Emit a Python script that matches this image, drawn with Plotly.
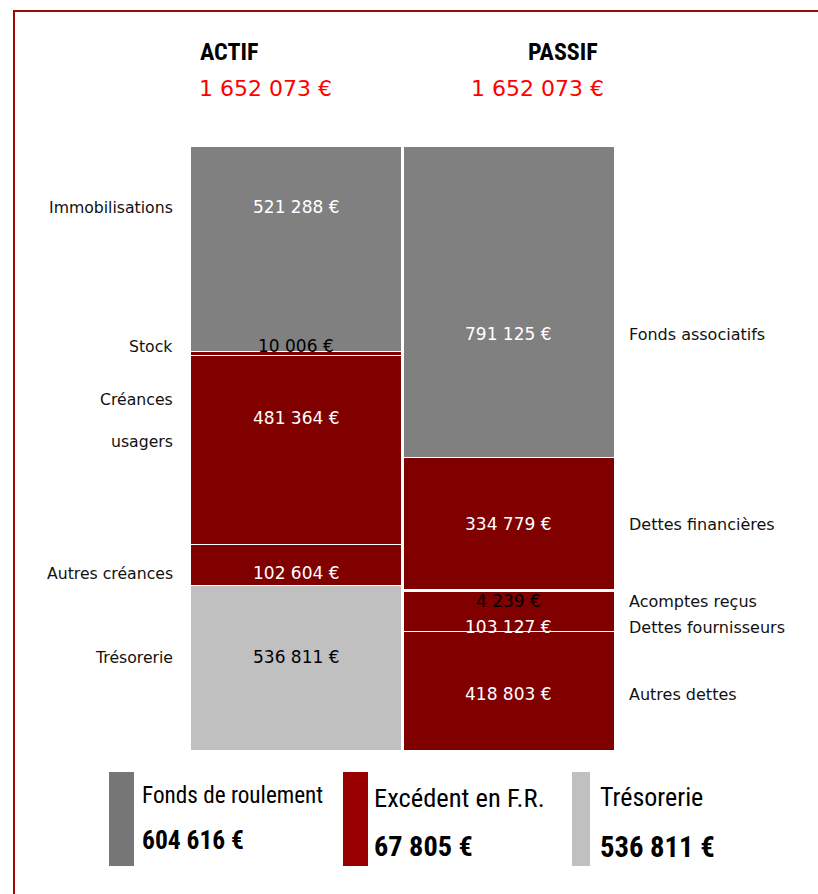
import plotly.graph_objects as go

# ---------------- data ----------------
side_titles = ["ACTIF", "PASSIF"]
actif_labels = ["Immobilisations", "Stock", "Créances usagers", "Autres créances", "Trésorerie"]
actif_values = [521288, 10006, 481364, 102604, 536811]
passif_labels = ["Fonds associatifs", "Dettes financières", "Acomptes reçus",
                 "Dettes fournisseurs", "Autres dettes"]
passif_values = [791125, 334779, 4239, 103127, 418803]
summary_labels = ["Fonds de roulement", "Excédent en F.R.", "Trésorerie"]
summary_values = [604616, 67805, 536811]
axis_floor = 118000  # lower bound of the visible value axis (bottom of bars is cut)

# ---------------- style ----------------
W, H = 818, 894
ML, MR, MT, MB = 190, 203, 146, 144
PW, PH = W - ML - MR, H - MT - MB
PAD = 2  # annotation inner padding compensation


def px(x):
    return (x - ML) / PW


def py(y):
    return (H - MB - y) / PH


def fmt(v):
    return f"{v:,}".replace(",", " ") + " €"


GRAY, RED, LGRAY, LBLUE = "#808080", "#800000", "#C0C0C0", "#99CCFF"
actif_colors = [GRAY, RED, RED, RED, LGRAY]
passif_colors = [GRAY, RED, LBLUE, RED, RED]
actif_txt = ["white", "black", "white", "white", "black"]
passif_txt = ["white", "white", "black", "white", "white"]
actif_label_y = [[207], [346], [399, 442], [573], [657]]
actif_value_y = [207, 346, 418, 573, 657]
passif_label_y = [334, 524, 601, 627, 694]
passif_value_y = [334, 524, 601, 627, 694]

LABEL_FONT = "DejaVu Sans"
NARROW = "Liberation Sans Narrow, Arial Narrow, Roboto Condensed, sans-serif"

fig = go.Figure()

for labels, values, colors, side in [
    (actif_labels, actif_values, actif_colors, side_titles[0]),
    (passif_labels, passif_values, passif_colors, side_titles[1]),
]:
    for lab, val, col in reversed(list(zip(labels, values, colors))):
        fig.add_trace(go.Bar(
            x=[side], y=[val], name=lab,
            marker=dict(color=col, line=dict(color="white", width=1.2)),
            showlegend=False, hoverinfo="name+y",
        ))

ann = []
# category labels
for lab, ys in zip(actif_labels, actif_label_y):
    parts = lab.split(" ") if len(ys) > 1 else [lab]
    for part, yy in zip(parts, ys):
        ann.append(dict(text=part, xref="paper", yref="paper", x=px(173 + PAD), y=py(yy),
                        xanchor="right", yanchor="middle", showarrow=False,
                        font=dict(family=LABEL_FONT, size=15.7, color="#111111")))
for lab, yy in zip(passif_labels, passif_label_y):
    ann.append(dict(text=lab, xref="paper", yref="paper", x=px(629 - PAD), y=py(yy),
                    xanchor="left", yanchor="middle", showarrow=False,
                    font=dict(family=LABEL_FONT, size=16, color="#111111")))
# value labels
for side, values, ys, tcs in [(side_titles[0], actif_values, actif_value_y, actif_txt),
                              (side_titles[1], passif_values, passif_value_y, passif_txt)]:
    for val, yy, tc in zip(values, ys, tcs):
        ann.append(dict(text=fmt(val), xref="x", yref="paper", x=side, y=py(yy),
                        xanchor="center", yanchor="middle", showarrow=False,
                        font=dict(family=LABEL_FONT, size=17, color=tc)))
# titles and totals
for title, tx, total, vx in [(side_titles[0], 200, sum(actif_values), 200),
                             (side_titles[1], 528, sum(passif_values), 472)]:
    ann.append(dict(text=f"<b>{title}</b>", xref="paper", yref="paper", x=px(tx - PAD), y=py(52),
                    xanchor="left", yanchor="middle", showarrow=False,
                    font=dict(family=NARROW, size=24, color="black")))
    ann.append(dict(text=fmt(total), xref="paper", yref="paper", x=px(vx - PAD - 1), y=py(88),
                    xanchor="left", yanchor="middle", showarrow=False,
                    font=dict(family=LABEL_FONT, size=22, color="#FF0000")))

# summary boxes
shapes = []
box_colors = ["#767676", "#990000", "#C0C0C0"]
box_x = [(109, 134), (343, 368), (572, 590)]
text_x = [142, 374, 600]
title_y = [795, 797, 797]
value_y = [840, 847, 847]
title_size = [23.2, 26.5, 26]
value_size = [25.5, 28.3, 28.7]
for lab, val, col, (x0, x1), tx, ty, vy, ts, vs in zip(
        summary_labels, summary_values, box_colors, box_x, text_x,
        title_y, value_y, title_size, value_size):
    shapes.append(dict(type="rect", xref="paper", yref="paper",
                       x0=px(x0), x1=px(x1), y0=py(866), y1=py(772),
                       fillcolor=col, line=dict(width=0)))
    ann.append(dict(text=lab, xref="paper", yref="paper", x=px(tx - PAD), y=py(ty),
                    xanchor="left", yanchor="middle", showarrow=False,
                    font=dict(family=NARROW, size=ts, color="black")))
    ann.append(dict(text=f"<b>{fmt(val)}</b>", xref="paper", yref="paper", x=px(tx - PAD), y=py(vy),
                    xanchor="left", yanchor="middle", showarrow=False,
                    font=dict(family=NARROW, size=vs, color="black")))

# frame (top and left edges)
shapes.append(dict(type="path", xref="paper", yref="paper",
                   path=f"M {px(14)} {py(H + 5)} L {px(14)} {py(11)} L {px(W + 5)} {py(11)}",
                   line=dict(color="#9E0A0A", width=2)))

fig.update_layout(
    width=W, height=H,
    margin=dict(l=ML, r=MR, t=MT, b=MB, pad=0),
    barmode="stack", bargap=0.005,
    paper_bgcolor="white", plot_bgcolor="white",
    xaxis=dict(visible=False, categoryorder="array", categoryarray=side_titles),
    yaxis=dict(visible=False, range=[axis_floor, sum(actif_values)]),
    annotations=ann, shapes=shapes,
    showlegend=False,
)

fig.write_html("out.html", config={"displayModeBar": False},
               post_script="document.body.style.margin='0px';")
